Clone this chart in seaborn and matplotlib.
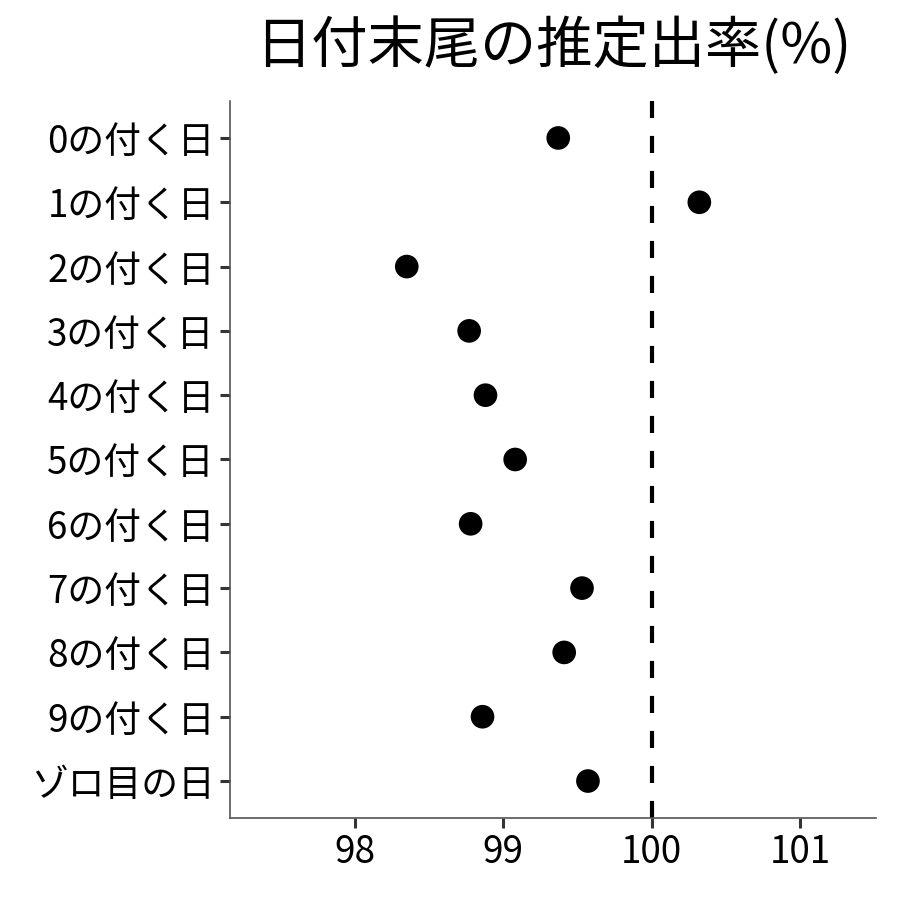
import matplotlib.pyplot as plt
import numpy as np
import pandas as pd
import seaborn as sns

labels = ["0の付く日", "1の付く日", "2の付く日", "3の付く日", "4の付く日",
          "5の付く日", "6の付く日", "7の付く日", "8の付く日", "9の付く日",
          "ゾロ目の日"]
rates = [99.37, 100.32, 98.35, 98.77, 98.88, 99.08, 98.78, 99.53, 99.41, 98.86, 99.57]

df = pd.DataFrame({"label": labels, "rate": rates})

sns.set_theme(style="white")
plt.rcParams["font.family"] = ["Noto Sans CJK JP", "DejaVu Sans"]

fig = plt.figure(figsize=(9, 9), dpi=100)
ax = fig.add_axes([0.2556, 0.0911, 0.7178, 0.7967])

ax.axvline(100, color="black", linewidth=3, linestyle=(0, (4.1, 4.3)), zorder=1)
sns.scatterplot(data=df, x="rate", y="label", color="black", s=290,
                edgecolor="none", ax=ax, zorder=3)

ax.set_xlim(97.16, 101.51)
ax.set_ylim(len(labels) - 1 + 0.575, -0.575)
ax.set_xticks([98, 99, 100, 101])
ax.set_xticklabels(["98", "99", "100", "101"])
ax.set_xlabel("")
ax.set_ylabel("")

for side in ["top", "right"]:
    ax.spines[side].set_visible(False)
for side in ["left", "bottom"]:
    ax.spines[side].set_color("#555555")
    ax.spines[side].set_linewidth(1.2)

ax.tick_params(axis="both", which="major", labelsize=26.5, length=7, width=2.2,
               color="#333333", labelcolor="black", pad=4, bottom=True, left=True)

fig.suptitle("日付末尾の推定出率(%)", fontsize=40.5, x=0.6144, y=0.980,
             va="top", color="black")

plt.savefig("out.png", dpi=100)
